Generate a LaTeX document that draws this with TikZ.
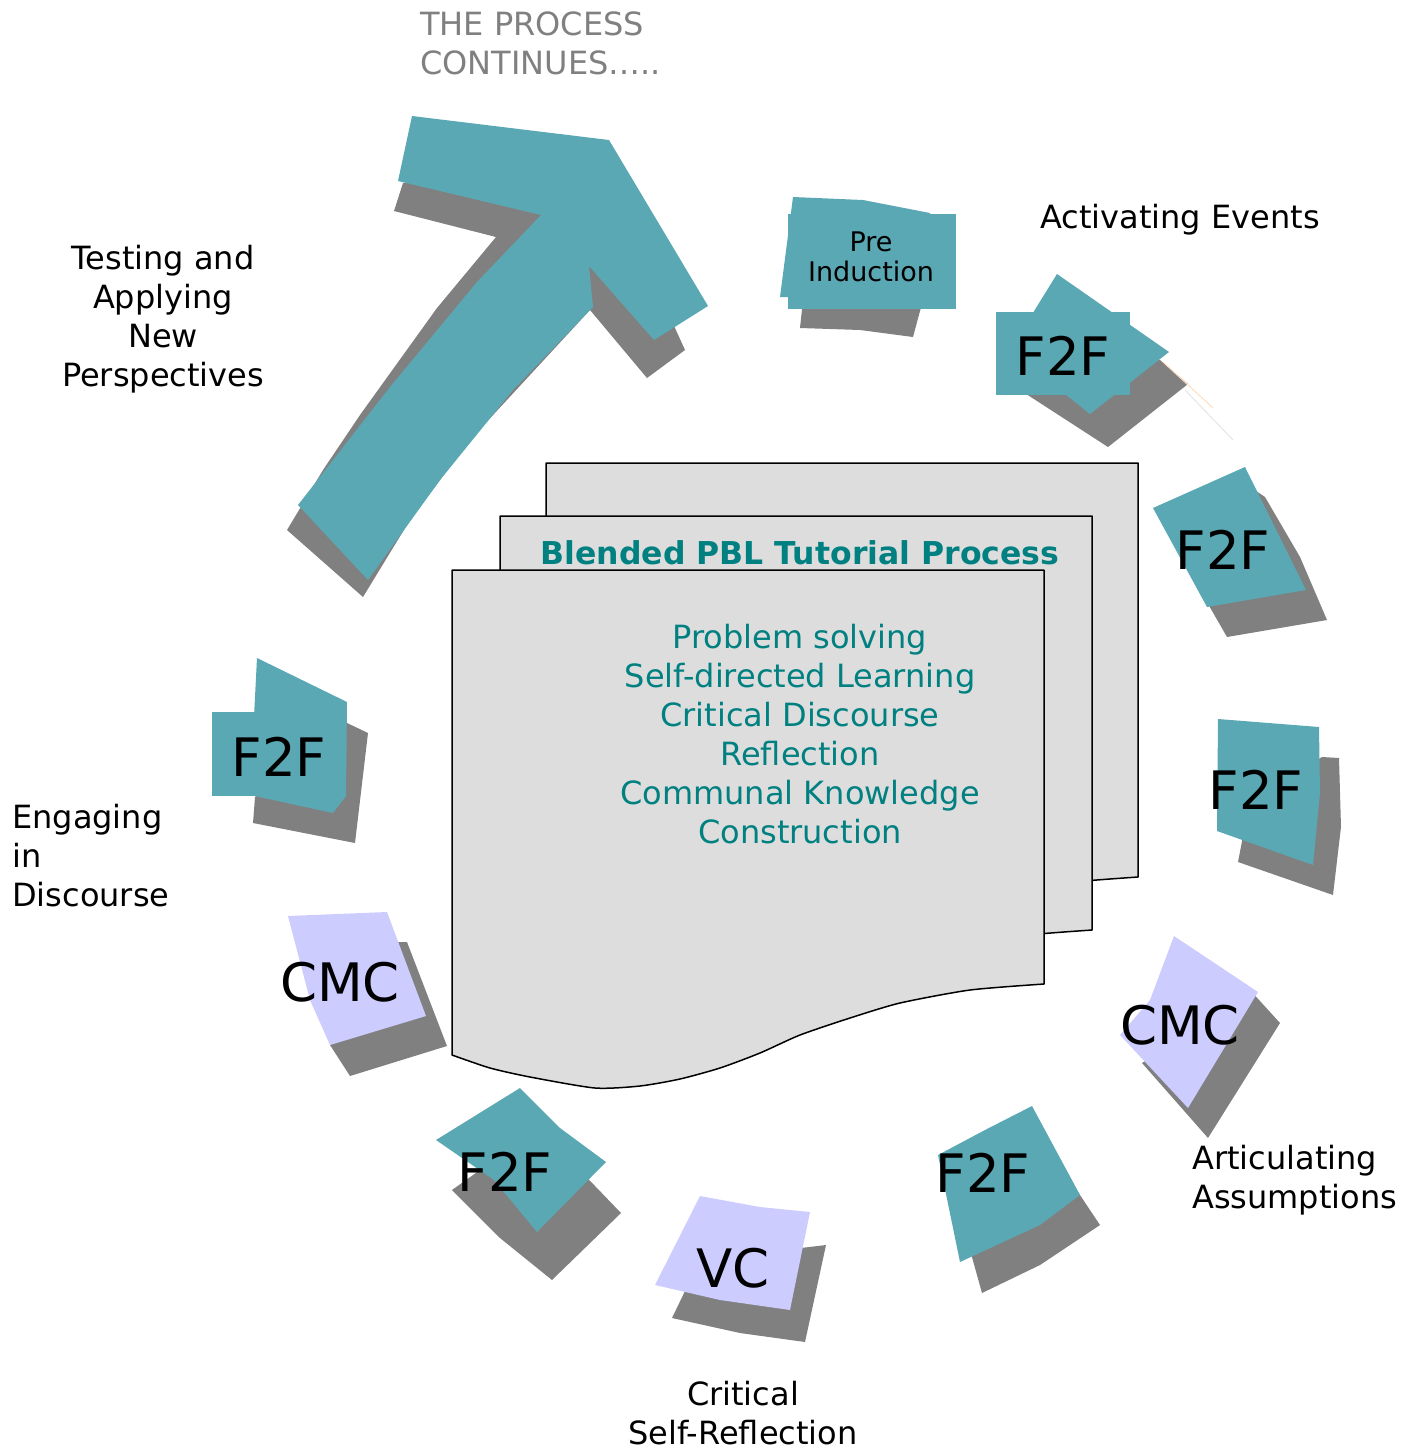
\documentclass[tikz,border=0pt]{standalone}
\usepackage{fontspec}
\setmainfont{DejaVu Sans}
\definecolor{tlx}{RGB}{90,168,180}
\definecolor{shx}{RGB}{128,128,128}
\definecolor{lvx}{RGB}{204,204,255}
\definecolor{pgx}{RGB}{221,221,221}
\definecolor{dtx}{RGB}{0,128,128}

\begin{document}
\begin{tikzpicture}[x=1pt,y=-1pt,
    lbl/.style={font=\fontsize{32}{39}\selectfont,inner sep=0pt},
    card/.style={font=\fontsize{53}{60}\selectfont,inner sep=0pt}]
    \useasboundingbox (0,0) rectangle (1416,1452);

    % the big arrow
    \fill [shx] (403,183) -- (394,211) -- (496,237) -- (437,308) -- (360,415) -- (323,470) -- (287,530)
        -- (363,597) -- (410,520) -- (470,440) -- (590,310) -- (647,378) -- (685,350) -- (675,328) -- (620,170) -- cycle;
    \fill [tlx] (412,116) -- (609,140) -- (708,306) -- (654,340) -- (589,266) -- (593,307) -- (513,390)
        -- (440,480) -- (368,580) -- (298,505) -- (390,387) -- (477,282) -- (541,215) -- (398,181) -- cycle;

    % cards round the circle
    \fill [shx] (800,328) -- (803,300) -- (923,300) -- (913,337) -- (860,330) -- cycle;
    \fill [tlx] (793,197) -- (863,200) -- (930,213) -- (930,300) -- (780,297) -- cycle;
    \fill [tlx] (788,214) rectangle (956,309);

    \fill [shx] (1020,390) -- (1060,330) -- (1160,360) -- (1188,384) -- (1108,447) -- cycle;
    \fill [tlx] (1057,274) -- (1169,352) -- (1090,414) -- (1010,350) -- cycle;
    \fill [tlx] (996,312) rectangle (1130,395);
    \draw [orange!25,line width=1pt] (1163,362) -- (1213,408);
    \draw [gray!20,line width=1pt] (1185,390) -- (1233,440);

    \fill [shx] (1240,480) -- (1265,497) -- (1300,557) -- (1327,620) -- (1227,637) -- (1200,590) -- cycle;
    \fill [tlx] (1153,508) -- (1245,467) -- (1306,590) -- (1207,607) -- cycle;

    \fill [shx] (1322,757) -- (1339,758) -- (1341,827) -- (1333,895) -- (1238,862) -- (1250,800) -- cycle;
    \fill [tlx] (1218,719) -- (1319,727) -- (1320,793) -- (1313,865) -- (1217,831) -- cycle;

    \fill [shx] (1250,990) -- (1280,1023) -- (1208,1138) -- (1142,1063) -- cycle;
    \fill [lvx] (1174,936) -- (1258,992) -- (1188,1108) -- (1120,1035) -- (1150,1000) -- cycle;

    \fill [shx] (1040,1135) -- (1100,1225) -- (1040,1265) -- (982,1293) -- (970,1250) -- cycle;
    \fill [tlx] (1032,1106) -- (1080,1195) -- (1040,1225) -- (960,1262) -- (938,1155) -- (985,1130) -- cycle;

    \fill [shx] (700,1260) -- (826,1245) -- (805,1342) -- (740,1333) -- (672,1318) -- cycle;
    \fill [lvx] (700,1196) -- (760,1207) -- (810,1212) -- (790,1310) -- (720,1300) -- (655,1285) -- cycle;

    \fill [shx] (570,1160) -- (621,1213) -- (552,1280) -- (500,1238) -- (452,1190) -- (480,1170) -- cycle;
    \fill [tlx] (520,1088) -- (560,1128) -- (606,1162) -- (537,1232) -- (494,1180) -- (436,1140) -- cycle;

    \fill [shx] (397,942) -- (407,942) -- (447,1046) -- (350,1076) -- (330,1045) -- (360,950) -- cycle;
    \fill [lvx] (288,916) -- (387,912) -- (426,1016) -- (330,1045) -- (310,1000) -- cycle;

    \fill [shx] (347,723) -- (368,733) -- (355,843) -- (253,823) -- (255,797) -- cycle;
    \fill [tlx] (257,658) -- (347,702) -- (346,796) -- (333,813) -- (250,795) -- cycle;
    \fill [tlx] (212,712) rectangle (346,796);

    % stacked pages
    \foreach \dx/\dy in {94/-107,48/-54,0/0}
        \filldraw [fill=pgx,line width=1.5pt,line join=round,shift={(\dx,\dy)}]
            (452,570) -- (1044,570)
            -- plot [smooth,tension=0.4] coordinates {(1044,984) (970,990) (900,1003) (850,1018) (800,1035) (760,1053)
                (720,1068) (680,1079) (640,1086) (595,1088) (530,1077) (490,1068) (452,1055)}
            -- cycle;

    \node [lbl,font=\fontsize{31.5}{39}\selectfont\bfseries,text=dtx] (title) at (800,553) {Blended PBL Tutorial Process};
    \node [lbl,text=dtx,align=center,anchor=north] (aims) at (800,624)
        {Problem solving\\Self-directed Learning\\Critical Discourse\\Reflection\\Communal Knowledge\\Construction};

    % labels
    \node [lbl,text=shx,align=left,anchor=north west] (goon) at (420,12) {THE PROCESS\\CONTINUES…..};
    \node [lbl,anchor=north west] (activ) at (1040,204) {Activating Events};
    \node [lbl,align=center,anchor=north] (testing) at (163,245) {Testing and\\Applying\\New\\Perspectives};
    \node [lbl,align=left,anchor=north west] (engage) at (12,804) {Engaging\\in\\Discourse};
    \node [lbl,align=left,anchor=north west] (artic) at (1192,1145) {Articulating\\Assumptions};
    \node [lbl,align=center,anchor=north] (reflect) at (743,1381) {Critical\\Self-Reflection};
    \node [inner sep=0pt,font=\fontsize{27}{30}\selectfont,align=center] (pre) at (871,257) {Pre\\Induction};

    \node [card] (fa) at (1063,356) {F2F};
    \node [card] (fb) at (1223,550) {F2F};
    \node [card] (fc) at (1256,790) {F2F};
    \node [card] (cr) at (1180,1025) {CMC};
    \node [card] (fd) at (983,1173) {F2F};
    \node [card] (vc) at (733,1268) {VC};
    \node [card] (fe) at (505,1172) {F2F};
    \node [card] (cl) at (340,982) {CMC};
    \node [card] (ff) at (279,757) {F2F};
\end{tikzpicture}
\end{document}
